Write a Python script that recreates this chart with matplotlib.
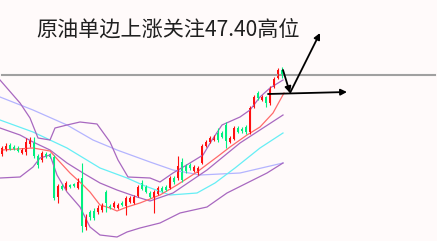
import numpy as np
import matplotlib
matplotlib.use('Agg')
import matplotlib.pyplot as plt

plt.rcParams['font.family'] = ['Noto Sans CJK SC', 'DejaVu Sans']

# candle data (index = bar number)
opens = [45.82, 45.92, 46.00, 45.96, 45.94, 45.84, 45.86, 46.02, 46.04, 45.78,
         45.70, 45.82, 45.82, 45.76, 44.96, 45.18, 45.12, 45.20, 45.22, 45.14,
         45.34, 44.36, 44.66, 44.68, 44.66, 44.70, 45.06, 44.78, 44.76, 44.74,
         44.84, 44.78, 44.86, 44.84, 44.98, 45.24, 45.16, 45.04, 44.94, 45.02,
         45.14, 45.16, 45.14, 45.34, 45.34, 45.66, 45.58, 45.60, 45.48, 45.44,
         45.64, 45.98, 46.06, 46.10, 46.24, 46.24, 46.40, 46.06, 46.12, 46.34,
         46.32, 46.36, 46.26, 46.76, 47.04, 46.90, 46.96, 46.84, 47.16, 47.34,
         47.50]
highs = [45.98, 46.04, 46.04, 46.00, 45.98, 45.94, 46.14, 46.16, 46.16, 45.82,
         45.88, 45.86, 45.84, 45.80, 45.22, 45.22, 45.28, 45.22, 45.24, 45.34,
         45.64, 44.62, 44.70, 44.74, 44.80, 44.84, 45.10, 44.82, 44.88, 44.84,
         44.88, 44.98, 44.98, 45.00, 45.20, 45.30, 45.20, 45.08, 45.10, 45.18,
         45.18, 45.20, 45.38, 45.38, 45.78, 45.74, 45.62, 45.64, 45.60, 45.58,
         46.02, 46.10, 46.18, 46.20, 46.34, 46.28, 46.46, 46.18, 46.38, 46.38,
         46.36, 46.40, 46.78, 47.00, 47.08, 47.00, 46.98, 47.18, 47.36, 47.54,
         47.56]
lows = [45.78, 45.88, 45.90, 45.90, 45.86, 45.82, 45.80, 45.96, 45.74, 45.54,
        45.66, 45.74, 45.74, 44.90, 44.84, 45.10, 45.10, 45.14, 45.16, 45.12,
        44.26, 44.30, 44.50, 44.50, 44.62, 44.66, 44.66, 44.72, 44.74, 44.72,
        44.78, 44.60, 44.84, 44.82, 44.96, 45.10, 45.04, 44.94, 44.64, 45.00,
        45.06, 45.08, 45.12, 45.22, 45.30, 45.26, 45.44, 45.50, 45.46, 45.40,
        45.62, 45.96, 46.04, 46.08, 46.06, 46.14, 45.94, 46.04, 46.10, 46.24,
        46.24, 46.22, 46.22, 46.74, 46.90, 46.88, 46.76, 46.80, 47.14, 47.32,
        47.34]
closes = [45.94, 45.98, 45.92, 45.92, 45.88, 45.90, 46.06, 46.10, 45.78, 45.60,
          45.84, 45.76, 45.76, 44.94, 45.18, 45.12, 45.24, 45.16, 45.18, 45.26,
          44.38, 44.54, 44.56, 44.54, 44.74, 44.80, 44.84, 44.74, 44.84, 44.80,
          44.80, 44.94, 44.94, 44.96, 45.16, 45.12, 45.06, 44.96, 45.06, 45.14,
          45.08, 45.10, 45.34, 45.26, 45.58, 45.30, 45.48, 45.54, 45.56, 45.54,
          45.98, 46.06, 46.14, 46.16, 46.10, 46.16, 46.08, 46.14, 46.34, 46.26,
          46.28, 46.26, 46.74, 46.96, 46.94, 46.96, 46.84, 47.14, 47.32, 47.50,
          47.38]

# indicator lines: (bar position, price)
ma_x = [0, 7.75, 12, 14, 17, 20.25, 22, 24.5, 27, 28.75, 31.25, 34.5, 39.5,
        43.75, 48.75, 53.75, 57, 61.25, 64.5, 67.75, 70.5]
ma_y = [45.90, 45.94, 45.88, 45.70, 45.44, 45.20, 45.06, 44.80, 44.74, 44.68,
        44.76, 44.84, 45.00, 45.20, 45.46, 45.76, 45.96, 46.20, 46.36, 46.64,
        47.04]

cyan_x = [-0.5, 7.75, 16.25, 24.5, 31.25, 35.75, 42, 48.75, 53.25, 58.25, 64.5, 70.25]
cyan_y = [46.50, 46.26, 45.94, 45.54, 45.34, 45.18, 45.00, 45.04, 45.24, 45.54,
          45.94, 46.24]

lav_x = [-0.5, 7.75, 16.25, 22.75, 28.75, 37, 42.75, 49.5, 59.5, 70.25]
lav_y = [46.96, 46.70, 46.40, 46.10, 45.90, 45.66, 45.50, 45.40, 45.44, 45.64]

up_x = [-0.5, 4.5, 7, 9, 12, 13.25, 16.25, 19.5, 23.75, 27, 29, 31.5, 37, 39.5,
        42.75, 47, 50.25, 52.5, 55, 59.5, 62, 64.5, 67, 70.25]
up_y = [47.30, 46.84, 46.54, 46.14, 46.10, 46.34, 46.40, 46.46, 46.42, 46.06,
        45.70, 45.36, 45.34, 45.26, 45.44, 45.64, 45.80, 46.10, 46.40, 46.56,
        46.70, 46.96, 47.14, 47.30]

mid_x = [-0.5, 4.5, 7.75, 12, 16.25, 20.25, 24.5, 28.75, 33.75, 37, 42.75, 51.25,
         59.5, 70.25]
mid_y = [46.34, 46.20, 46.06, 45.90, 45.64, 45.44, 45.24, 45.10, 44.96, 44.88,
         45.04, 45.50, 46.04, 46.60]

low_x = [-0.5, 4.5, 7.75, 9.5, 12, 13.75, 16.25, 19.5, 22, 24.5, 28.75, 31.25,
         34.5, 39.5, 44.5, 51.25, 56.25, 61.25, 66.25, 70.25]
low_y = [45.34, 45.36, 45.56, 45.74, 45.80, 45.40, 45.06, 44.76, 44.36, 44.20,
         44.16, 44.26, 44.34, 44.44, 44.64, 44.76, 45.04, 45.24, 45.44, 45.64]

level = 47.40
title = '原油单边上涨关注47.40高位'

fig = plt.figure(figsize=(4.37, 2.41), dpi=100)
fig.patch.set_facecolor('#fffafa')
ax = fig.add_axes([0, 0, 1, 1])
ax.set_facecolor('#fffafa')
ax.set_xlim(-0.5, 108.75)
ax.set_ylim(44.08, 48.90)
ax.axis('off')

# bands and averages
ax.plot(lav_x, lav_y, color='#b4b4ff', lw=0.9)
ax.plot(cyan_x, cyan_y, color='#66eef5', lw=0.9)
for bx, by in [(up_x, up_y), (mid_x, mid_y), (low_x, low_y)]:
    ax.plot(bx, by, color='#a868c0', lw=0.9)
ax.plot(ma_x, ma_y, color='#ff6a6a', lw=0.9)

# candles
idx = np.arange(len(opens))
o = np.array(opens); c = np.array(closes)
cols = np.where(c >= o, '#ff1010', '#00f080')
ax.vlines(idx, lows, highs, colors=cols, lw=0.8)
bottom = np.minimum(o, c)
height = np.maximum(np.abs(c - o), 0.03)
ax.bar(idx, height, bottom=bottom, width=0.55, color=cols, linewidth=0)

ax.axhline(level, xmin=0.005, xmax=0.995, color='#a0a0a0', lw=1.5, zorder=1)

# arrows
ap = dict(arrowstyle='-|>', color='black', lw=1.3, mutation_scale=9, shrinkA=0, shrinkB=0)
ax.annotate('', xy=(72, 47.04), xytext=(70.25, 47.50), arrowprops=ap)
ax.annotate('', xy=(79.5, 48.24), xytext=(72, 47.04), arrowprops=ap)
ax.annotate('', xy=(86.25, 47.06), xytext=(66.5, 47.02), arrowprops=ap)

fig.text(36 / 437, 1 - 31 / 241, title, fontsize=15.2, color='#202020',
         ha='left', va='center')

fig.savefig('out.png', dpi=100, facecolor=fig.get_facecolor())
